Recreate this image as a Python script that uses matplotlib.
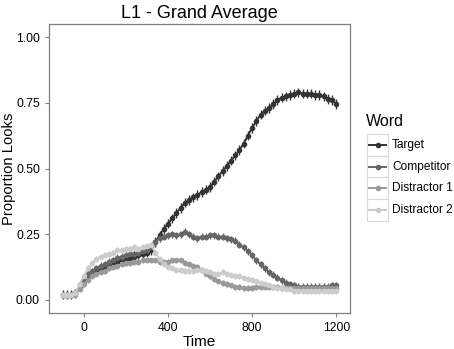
import numpy as np
import matplotlib
matplotlib.use('Agg')
import matplotlib.pyplot as plt
from matplotlib.patches import Rectangle
from matplotlib.lines import Line2D

plt.rcParams['font.family'] = ['Liberation Sans', 'DejaVu Sans']

time = np.arange(-100, 1201, 20)  # 66 bins, 20 ms each

target = [0.02, 0.02, 0.02, 0.025, 0.05, 0.075, 0.09, 0.10, 0.11, 0.115,
          0.125, 0.13, 0.14, 0.145, 0.15, 0.155, 0.16, 0.165, 0.17, 0.175,
          0.18, 0.19, 0.22, 0.245, 0.27, 0.29, 0.31, 0.33, 0.35, 0.37,
          0.38, 0.39, 0.40, 0.41, 0.42, 0.43, 0.45, 0.47, 0.49, 0.51,
          0.53, 0.55, 0.57, 0.595, 0.625, 0.655, 0.68, 0.705, 0.72, 0.73,
          0.745, 0.76, 0.77, 0.775, 0.78, 0.785, 0.79, 0.785, 0.785, 0.785,
          0.78, 0.78, 0.775, 0.765, 0.76, 0.745]
competitor = [0.02, 0.02, 0.02, 0.025, 0.055, 0.08, 0.10, 0.11, 0.12, 0.13,
              0.135, 0.145, 0.15, 0.16, 0.165, 0.17, 0.175, 0.175, 0.18, 0.185,
              0.19, 0.20, 0.22, 0.235, 0.24, 0.245, 0.25, 0.245, 0.25, 0.26,
              0.25, 0.24, 0.235, 0.24, 0.24, 0.245, 0.245, 0.24, 0.24, 0.235,
              0.23, 0.225, 0.21, 0.20, 0.185, 0.17, 0.15, 0.135, 0.12, 0.105,
              0.095, 0.085, 0.075, 0.065, 0.06, 0.055, 0.05, 0.05, 0.05, 0.05,
              0.05, 0.05, 0.05, 0.05, 0.055, 0.055]
distractor1 = [0.02, 0.02, 0.02, 0.02, 0.04, 0.06, 0.075, 0.09, 0.10, 0.105,
               0.11, 0.12, 0.125, 0.13, 0.135, 0.14, 0.14, 0.145, 0.145, 0.15,
               0.15, 0.15, 0.15, 0.145, 0.145, 0.145, 0.15, 0.15, 0.15, 0.14,
               0.135, 0.13, 0.125, 0.115, 0.10, 0.09, 0.08, 0.07, 0.065, 0.06,
               0.055, 0.05, 0.05, 0.045, 0.045, 0.045, 0.05, 0.05, 0.05, 0.05,
               0.05, 0.05, 0.045, 0.045, 0.045, 0.045, 0.045, 0.045, 0.045, 0.045,
               0.045, 0.045, 0.045, 0.045, 0.045, 0.045]
distractor2 = [0.02, 0.02, 0.02, 0.025, 0.06, 0.09, 0.12, 0.14, 0.155, 0.165,
               0.17, 0.175, 0.18, 0.19, 0.19, 0.195, 0.195, 0.20, 0.195, 0.20,
               0.205, 0.21, 0.18, 0.155, 0.135, 0.125, 0.12, 0.115, 0.115, 0.11,
               0.11, 0.11, 0.115, 0.115, 0.11, 0.105, 0.10, 0.10, 0.105, 0.10,
               0.095, 0.09, 0.09, 0.085, 0.08, 0.075, 0.07, 0.065, 0.06, 0.055,
               0.05, 0.045, 0.045, 0.04, 0.04, 0.035, 0.035, 0.035, 0.035, 0.035,
               0.035, 0.035, 0.035, 0.035, 0.035, 0.035]

words = ['Target', 'Competitor', 'Distractor 1', 'Distractor 2']
series = [target, competitor, distractor1, distractor2]
se = [0.018, 0.013, 0.011, 0.011]
colors = ['#333333', '#666666', '#999999', '#cccccc']

W, H = 454, 349
fig = plt.figure(figsize=(4.54, 3.49), dpi=100)
ax = fig.add_axes([49/W, 36/H, 301/W, 289/H])

for vals, err, col in zip(series, se, colors):
    ax.errorbar(time, vals, yerr=err, color=col, ecolor=col, elinewidth=1.0,
                capsize=1.6, capthick=1.0, lw=1.4, marker='o', ms=4.0, mew=0)

ax.set_xlim(-165, 1265)
ax.set_ylim(-0.05, 1.05)
ax.set_xticks([0, 400, 800, 1200])
ax.set_yticks([0, 0.25, 0.5, 0.75, 1.0])
ax.set_yticklabels(['0.00', '0.25', '0.50', '0.75', '1.00'])
for s in ax.spines.values():
    s.set_color('#7f7f7f')
    s.set_linewidth(0.9)
ax.tick_params(colors='#7f7f7f', labelcolor='black', labelsize=8.8, length=3, width=0.8)
ax.set_xlabel('Time', fontsize=11, labelpad=1)
ax.set_title('L1 - Grand Average', fontsize=13, pad=4)
fig.text(9/W, 1 - 169/H, 'Proportion Looks', fontsize=10.6, rotation=90,
         va='center', ha='center')

# legend drawn by hand (ggplot style key boxes)
fig.text(366/W, 1 - 122/H, 'Word', fontsize=11.5, va='center', ha='left')
for i, (name, col) in enumerate(zip(words, colors)):
    yc = 145 + i * 21.6
    fig.patches.append(Rectangle((367/W, 1 - (yc + 10.8)/H), 21/W, 21.6/H,
                                 transform=fig.transFigure, facecolor='white',
                                 edgecolor='#d9d9d9', lw=0.8))
    fig.lines.append(Line2D([369/W, 386/W], [1 - yc/H, 1 - yc/H],
                            transform=fig.transFigure, color=col, lw=1.4))
    fig.lines.append(Line2D([377.5/W], [1 - yc/H], transform=fig.transFigure,
                            color=col, marker='o', ms=4.0, mew=0))
    fig.text(392/W, 1 - yc/H, name, fontsize=8.6, va='center', ha='left')

fig.savefig('out.png', dpi=100)
